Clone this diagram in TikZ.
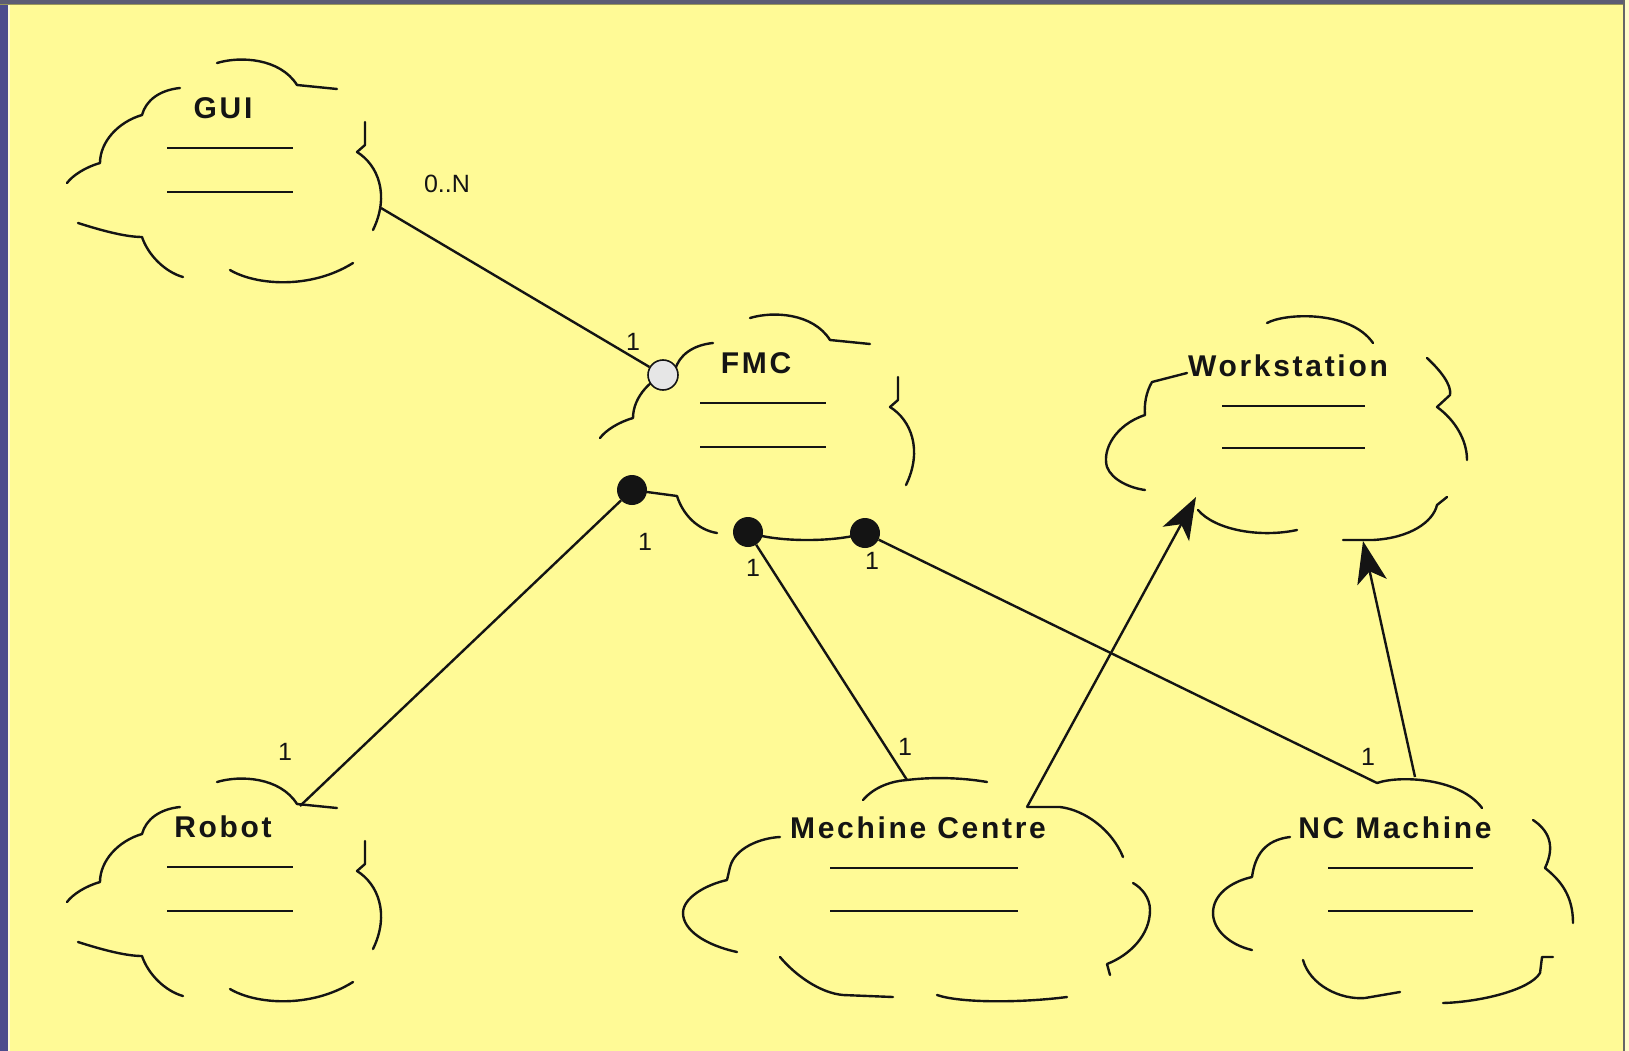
\documentclass[tikz,border=0pt]{standalone}
\usepackage{fontspec}
\setmainfont{Liberation Sans}
\newfontfamily\clsfont[LetterSpace=9]{Liberation Sans}
\usetikzlibrary{arrows.meta}

\definecolor{paper}{HTML}{FFFA96}
\definecolor{edgeblue}{HTML}{4C4C8E}
\definecolor{edgetop}{HTML}{5C5C74}
\definecolor{ink}{HTML}{141414}
\definecolor{portfill}{HTML}{E6E6E6}

\tikzset{
  cloudline/.style={draw=ink, line width=2.4pt, line cap=round, line join=round},
  compline/.style={draw=ink, line width=2.8pt},
  clstitle/.style={font=\clsfont\bfseries\fontsize{30}{36}\selectfont, text=ink, inner sep=0pt},
  mult/.style={font=\fontsize{25}{30}\selectfont, text=ink, inner sep=0pt},
  link/.style={draw=ink, line width=2.4pt},
  uses/.style={link, -{Stealth[length=42pt,width=30pt,inset=11pt]}},
  hasdot/.style={circle, fill=ink, minimum size=30pt, inner sep=0pt},
  portdot/.style={circle, draw=ink, line width=1.6pt, fill=portfill, minimum size=30pt, inner sep=0pt},
}

% Booch class cloud, upper part and compartment lines (local coordinates)
\newcommand\boochupper{%
  \draw[cloudline] (217,63) .. controls (240,56) and (280,58) .. (297,85) -- (337,89);
  \draw[cloudline] (180,88) .. controls (160,90) and (146,100) .. (142,115)
     .. controls (118,122) and (100,142) .. (100,163)
     .. controls (86,167) and (73,175) .. (67,183);
  \draw[cloudline] (365,122) -- (365,145) -- (357,152)
     .. controls (378,165) and (390,195) .. (373,230);
  \draw[compline] (167,148) -- (293,148) (167,192) -- (293,192);
}
% Booch class cloud, lower part
\newcommand\boochlower{%
  \draw[cloudline] (78,223) .. controls (100,230) and (125,237) .. (142,237)
     .. controls (148,255) and (165,272) .. (183,277);
  \draw[cloudline] (230,270) .. controls (255,285) and (310,290) .. (353,263);
}

\begin{document}
\begin{tikzpicture}[x=1pt,y=-1pt]
  % page and window frame
  \fill[paper] (0,0) rectangle (1629,1051);
  \useasboundingbox (0,0) rectangle (1629,1051);
  \fill[edgeblue] (0,0) rectangle (8,1051);
  \fill[white!60!paper] (8,0) rectangle (10,1051);
  \fill[edgetop] (0,0) rectangle (1629,4);
  \fill[black!40!paper] (0,4) rectangle (1629,5.5);
  \fill[black!60] (1623,0) rectangle (1625,1051);
  \fill[white!50!paper] (1625,0) rectangle (1629,1051);

  % GUI
  \begin{scope}
    \boochupper
    \boochlower
    \node[clstitle] (gui) at (223,108) {GUI};
    \coordinate (gui-link) at (381,208);
  \end{scope}

  % Robot
  \begin{scope}[shift={(0,719)}]
    \boochupper
    \boochlower
    \node[clstitle] (robot) at (223,108) {Robot};
    \coordinate (robot-link) at (300,87);
  \end{scope}

  % FMC
  \begin{scope}[shift={(533,255)}]
    \boochupper
    \draw[cloudline] (99,235) -- (144,241) .. controls (150,260) and (165,275) .. (184,278);
    \draw[cloudline] (215,277) .. controls (240,287) and (300,288) .. (332,278);
    \node[clstitle] (fmc) at (223,108) {FMC};
    \node[portdot] (fmc-port) at (130,120) {};
    \node[hasdot] (fmc-a) at (99,235) {};
    \node[hasdot] (fmc-b) at (215,277) {};
    \node[hasdot] (fmc-c) at (332,278) {};
  \end{scope}

  % Workstation
  \draw[cloudline] (1267,323) .. controls (1285,313) and (1350,310) .. (1373,343);
  \draw[cloudline] (1187,373) -- (1152,382) .. controls (1146,392) and (1144,405) .. (1145,415)
     .. controls (1115,425) and (1102,450) .. (1107,467)
     .. controls (1112,480) and (1130,488) .. (1145,490);
  \draw[cloudline] (1198,510) .. controls (1215,530) and (1260,538) .. (1297,530);
  \draw[cloudline] (1343,540) -- (1373,540) .. controls (1410,538) and (1433,522) .. (1437,505) -- (1447,497);
  \draw[cloudline] (1427,358) .. controls (1440,370) and (1452,385) .. (1450,395) -- (1437,407)
     .. controls (1455,420) and (1467,440) .. (1467,460);
  \draw[compline] (1222,406) -- (1365,406) (1222,448) -- (1365,448);
  \node[clstitle] (ws) at (1288,366) {Workstation};
  \coordinate (ws-a) at (1196,497);
  \coordinate (ws-b) at (1363,541);

  % Mechine Centre
  \draw[cloudline] (863,800) .. controls (875,786) and (893,781) .. (907,780)
     .. controls (940,776) and (970,779) .. (987,782);
  \draw[cloudline] (1027,807) -- (1060,807) .. controls (1085,810) and (1112,830) .. (1123,857);
  \draw[cloudline] (780,837) .. controls (760,838) and (735,848) .. (730,867) -- (727,880)
     .. controls (705,885) and (683,898) .. (683,913)
     .. controls (683,930) and (705,945) .. (737,952);
  \draw[cloudline] (780,957) .. controls (795,975) and (820,993) .. (843,995) -- (893,997);
  \draw[cloudline] (937,995) .. controls (960,1003) and (1020,1003) .. (1067,997);
  \draw[cloudline] (1110,975) -- (1107,964) .. controls (1130,955) and (1150,935) .. (1150,910)
     .. controls (1150,898) and (1142,888) .. (1133,883);
  \draw[compline] (830,868) -- (1018,868) (830,911) -- (1018,911);
  \node[clstitle] (mc) at (918,828) {Mechine Centre};
  \coordinate (mc-top) at (907,780);
  \coordinate (mc-link) at (1027,807);

  % NC Machine
  \draw[cloudline] (1377,783) .. controls (1400,775) and (1460,778) .. (1482,808);
  \draw[cloudline] (1290,837) .. controls (1265,840) and (1255,855) .. (1252,877)
     .. controls (1230,882) and (1213,895) .. (1213,913)
     .. controls (1213,930) and (1230,945) .. (1252,950);
  \draw[cloudline] (1303,960) .. controls (1310,985) and (1340,1000) .. (1365,998) -- (1400,992);
  \draw[cloudline] (1443,1003) .. controls (1480,1002) and (1530,990) .. (1540,973) -- (1542,957) -- (1553,957);
  \draw[cloudline] (1533,820) .. controls (1548,830) and (1556,845) .. (1545,868)
     .. controls (1560,880) and (1573,895) .. (1573,923);
  \draw[compline] (1328,868) -- (1473,868) (1328,911) -- (1473,911);
  \node[clstitle] (nc) at (1395,828) {NC Machine};
  \coordinate (nc-top) at (1377,783);
  \coordinate (nc-link) at (1415,777);

  % associations
  \draw[link] (gui-link) -- (fmc-port);
  \draw[link] (fmc-a) -- (robot-link);
  \draw[link] (fmc-b) -- (mc-top);
  \draw[link] (fmc-c) -- (nc-top);
  \draw[uses] (mc-link) -- (ws-a);
  \draw[uses] (nc-link) -- (ws-b);

  % multiplicities
  \node[mult] (m-gui) at (447,184) {0..N};
  \node[mult] (m-port) at (633,342) {1};
  \node[mult] (m-a) at (645,542) {1};
  \node[mult] (m-b) at (753,568) {1};
  \node[mult] (m-c) at (872,561) {1};
  \node[mult] (m-robot) at (285,752) {1};
  \node[mult] (m-mc) at (905,747) {1};
  \node[mult] (m-nc) at (1368,757) {1};
\end{tikzpicture}
\end{document}
